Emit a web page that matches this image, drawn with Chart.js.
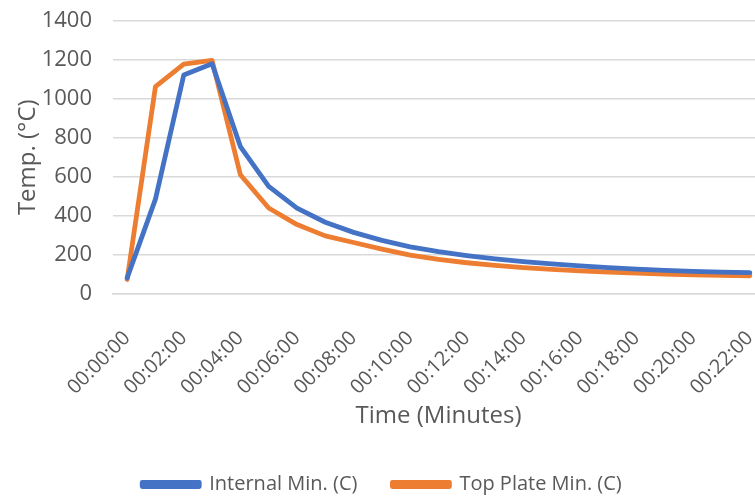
<!DOCTYPE html>
<html>
<head>
<meta charset="utf-8">
<script src="https://cdn.jsdelivr.net/npm/chart.js@4/dist/chart.umd.min.js"></script>
<style>
  html, body { margin: 0; padding: 0; background: #fff; overflow: hidden; }
  #wrap { width: 764px; height: 497px; }
</style>
</head>
<body>
<div id="wrap"><canvas id="tempChart"></canvas></div>
<script>
// --- Data ---
const timeLabels = ['00:00:00','00:01:00','00:02:00','00:03:00','00:04:00','00:05:00','00:06:00','00:07:00',
  '00:08:00','00:09:00','00:10:00','00:11:00','00:12:00','00:13:00','00:14:00','00:15:00','00:16:00',
  '00:17:00','00:18:00','00:19:00','00:20:00','00:21:00','00:22:00'];
const internalMin = [80, 485, 1123, 1180, 755, 550, 439, 366, 314, 273, 240, 215, 195, 178, 164, 152, 142, 133, 125, 119, 114, 110, 107];
const topPlateMin = [72, 1063, 1178, 1198, 610, 439, 354, 296, 262, 228, 197, 175, 158, 144, 133, 124, 116, 110, 105, 100, 96, 93, 91];
const yTicks = [0, 200, 400, 600, 800, 1000, 1200, 1400];

const textGray = '#595959';
const gridGray = '#d9d9d9';
const fontFamily = 'Open Sans';

// --- Fixed layout sizes (px) ---
const yAxisWidth = 113;
const xAxisHeight = 146;
const legendHeight = 57.5;

// the legend keeps wide gaps between items but only takes legendHeight of vertical room
const legendSizePlugin = {
    id: 'legendSize',
    afterInit(chart) {
        const legend = chart.legend;
        const origFit = legend.fit.bind(legend);
        legend.fit = function () {
            origFit();
            this.height = legendHeight;
        };
    }
};

document.addEventListener('DOMContentLoaded', () => {
    const ctx = document.getElementById('tempChart').getContext('2d');
    new Chart(ctx, {
        type: 'line',
        data: {
            labels: timeLabels,
            datasets: [{
                label: 'Internal Min. (C)',
                data: internalMin,
                borderColor: '#4472C4',
                backgroundColor: '#4472C4',
                borderWidth: 4.8,
                borderCapStyle: 'round',
                borderJoinStyle: 'round',
                pointRadius: 0,
                tension: 0
            }, {
                label: 'Top Plate Min. (C)',
                data: topPlateMin,
                borderColor: '#ED7D31',
                backgroundColor: '#ED7D31',
                borderWidth: 4.8,
                borderCapStyle: 'round',
                borderJoinStyle: 'round',
                pointRadius: 0,
                tension: 0
            }]
        },
        plugins: [legendSizePlugin],
        options: {
            responsive: true,
            maintainAspectRatio: false,
            animation: false,
            layout: { padding: { top: 21, left: 0, right: 0, bottom: 0 } },
            plugins: {
                tooltip: { enabled: false },
                legend: {
                    position: 'bottom',
                    labels: {
                        color: textGray,
                        font: { family: fontFamily, size: 20 },
                        boxWidth: 57,
                        boxHeight: 4,
                        padding: 35
                    }
                }
            },
            scales: {
                x: {
                    offset: true,
                    grid: { display: false },
                    border: { display: true, color: gridGray, width: 1.5 },
                    afterFit: (s) => { s.height = xAxisHeight; s.paddingLeft = 0; s.paddingRight = 0; },
                    ticks: {
                        autoSkip: false,
                        maxRotation: 45,
                        minRotation: 45,
                        padding: 25,
                        color: textGray,
                        font: { family: fontFamily, size: 20 },
                        callback: function (value, index) {
                            return index % 2 === 0 ? timeLabels[index] : '';
                        }
                    },
                    title: {
                        display: true,
                        text: 'Time (Minutes)',
                        color: textGray,
                        font: { family: fontFamily, size: 24 },
                        padding: { top: 0, bottom: 9 }
                    }
                },
                y: {
                    min: 0,
                    max: 1400,
                    afterBuildTicks: (axis) => { axis.ticks = yTicks.map(v => ({ value: v })); },
                    afterFit: (s) => { s.width = yAxisWidth; s.paddingTop = 0; s.paddingBottom = 0; },
                    grid: { color: gridGray, lineWidth: 1.5, drawTicks: false },
                    border: { display: false },
                    ticks: {
                        padding: 21,
                        color: textGray,
                        font: { family: fontFamily, size: 22 },
                        callback: (value) => String(value)
                    },
                    title: {
                        display: true,
                        text: 'Temp. (°C)',
                        color: textGray,
                        font: { family: fontFamily, size: 24 },
                        padding: { top: 13.6, bottom: 0 }
                    }
                }
            }
        }
    });
});
</script>
</body>
</html>
